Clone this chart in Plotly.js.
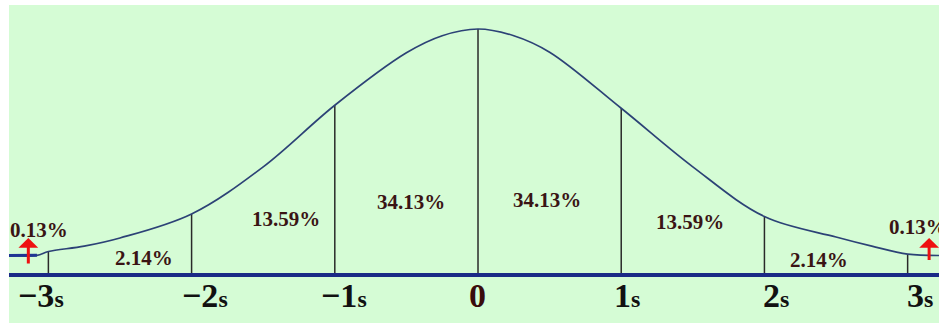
<!DOCTYPE html>
<html>
<head>
<meta charset="utf-8">
<script src="https://cdn.plot.ly/plotly-3.0.1.min.js"></script>
<style>
  html, body { margin: 0; padding: 0; background: #fff; }
  #chart { width: 939px; height: 323px; }
</style>
</head>
<body>
<div id="chart"></div>
<script>
// curve, x in sigma units, y as density (peak ~0.40)
var curveX = [-3.275, -3.08, -3.0, -2.75, -2.5, -2.0, -1.5, -1.0, -0.5, -0.25, 0, 0.25, 0.5, 1.0, 1.5, 2.0, 2.5, 2.75, 3.0, 3.219];
var curveY = [0.0287, 0.0290, 0.0352, 0.044, 0.0574, 0.0967, 0.174, 0.275, 0.361, 0.389, 0.400, 0.389, 0.362, 0.270, 0.174, 0.0926, 0.059, 0.044, 0.031, 0.0287];

// vertical dividers at each sigma, up to the curve
var sigmaX = [-3, -2, -1, 0, 1, 2, 3];
var sigmaH = [0.0352, 0.0967, 0.275, 0.400, 0.270, 0.0926, 0.031];
var sigmaText = ['\u22123<span style="font-size:24px">s</span>', '\u22122<span style="font-size:24px">s</span>',
  '\u22121<span style="font-size:24px">s</span>', '0', '1<span style="font-size:24px">s</span>',
  '2<span style="font-size:24px">s</span>', '3<span style="font-size:24px">s</span>'];

// area shares
var shares = ['0.13%', '2.14%', '13.59%', '34.13%', '34.13%', '13.59%', '2.14%', '0.13%'];

// label placement (layout only)
var shareX = [-3.066, -2.332, -1.341, -0.468, 0.482, 1.480, 2.381, 2.856];
var shareY = [0.0706, 0.0246, 0.0887, 0.1166, 0.120, 0.0838, 0.0213, 0.0755];
var shareAnchor = ['center', 'center', 'center', 'center', 'center', 'center', 'center', 'left'];
var tickPos = [-3.052, -1.906, -0.936, -0.007, 1.041, 2.081, 3.087];

// red arrows at the tails
var arrowX = [-3.14, 3.15];
var arrowTip = [0.0575, 0.0575];
var arrowTail = [0.013, 0.019];

var divX = [], divY = [];
sigmaX.forEach(function (s, i) {
  divX.push(s, s, null);
  divY.push(0, sigmaH[i], null);
});

var dividers = {
  x: divX, y: divY, mode: 'lines', type: 'scatter',
  line: {color: '#2a2a2a', width: 1.5}, hoverinfo: 'skip'
};

var curve = {
  x: curveX, y: curveY, mode: 'lines', type: 'scatter',
  line: {color: '#2c4276', width: 1.7, shape: 'spline', smoothing: 1}
};

var tail = {
  x: [curveX[0], curveX[1]], y: [curveY[0], curveY[1]], mode: 'lines', type: 'scatter',
  line: {color: '#1f3593', width: 3}
};

var annotations = [];
shares.forEach(function (t, i) {
  annotations.push({
    x: shareX[i], y: shareY[i], xref: 'x', yref: 'y', text: t, showarrow: false,
    xanchor: shareAnchor[i], yanchor: 'middle',
    font: {family: 'Liberation Serif', size: 21, weight: 'bold', color: '#3a1414'}
  });
});
sigmaText.forEach(function (t, i) {
  annotations.push({
    x: tickPos[i], y: -0.085, xref: 'x', yref: 'paper', text: t, showarrow: false,
    xanchor: 'center', yanchor: 'middle',
    font: {family: 'Liberation Serif', size: 34, weight: 'bold', color: i === 3 ? '#3a0c0c' : '#111'}
  });
});
arrowX.forEach(function (x, i) {
  annotations.push({
    x: x, y: arrowTip[i], ax: x, ay: arrowTail[i], xref: 'x', yref: 'y', axref: 'x', ayref: 'y',
    text: '', showarrow: true, arrowhead: 1, arrowsize: 1.1, arrowwidth: 3, arrowcolor: '#ee1111'
  });
});

var layout = {
  width: 939,
  height: 323,
  margin: {l: 9, r: 0, t: 5, b: 50},
  paper_bgcolor: '#d5fcd5',
  plot_bgcolor: '#d5fcd5',
  showlegend: false,
  hovermode: false,
  xaxis: {
    range: [-3.275, 3.219], showgrid: false, zeroline: false, showticklabels: false,
    ticks: '', showline: true, linecolor: '#1a2a86', linewidth: 3.5
  },
  yaxis: {range: [0, 0.4393], visible: false},
  shapes: [
    {type: 'rect', xref: 'paper', yref: 'paper', x0: -0.02, x1: 1.01, y0: 1, y1: 1.05,
      fillcolor: '#ffffff', line: {width: 0}, layer: 'above'},
    {type: 'rect', xref: 'paper', yref: 'paper', x0: -0.02, x1: 0, y0: -0.25, y1: 1.05,
      fillcolor: '#ffffff', line: {width: 0}, layer: 'above'}
  ],
  annotations: annotations
};

Plotly.newPlot('chart', [dividers, curve, tail], layout, {staticPlot: true, displayModeBar: false});
</script>
</body>
</html>
